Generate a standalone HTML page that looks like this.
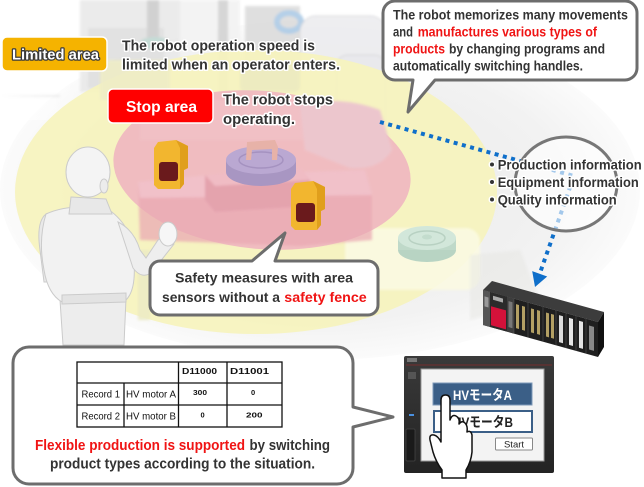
<!DOCTYPE html>
<html><head><meta charset="utf-8">
<style>
html,body{margin:0;padding:0;background:#fff;}
svg{display:block;}
text{font-family:"Liberation Sans","Noto Sans CJK JP",sans-serif;}
</style></head><body>
<svg width="644" height="487" viewBox="0 0 644 487" xmlns="http://www.w3.org/2000/svg">
<defs>
  <filter id="b1" x="-20%" y="-20%" width="140%" height="140%"><feGaussianBlur stdDeviation="1.2"/></filter>
  <radialGradient id="floor" cx="0.5" cy="0.5" r="0.55">
    <stop offset="0" stop-color="#e8e8e8"/><stop offset="0.7" stop-color="#f2f2f2"/><stop offset="1" stop-color="#ffffff"/>
  </radialGradient>
  <linearGradient id="bez" x1="0" y1="0" x2="0" y2="1">
    <stop offset="0" stop-color="#3a3a3a"/><stop offset="1" stop-color="#232323"/>
  </linearGradient>
  <linearGradient id="topfade" x1="0" y1="0" x2="1" y2="0">
    <stop offset="0" stop-color="#fff" stop-opacity="1"/><stop offset="0.2" stop-color="#fff" stop-opacity="0"/>
  </linearGradient>
</defs>

<rect width="644" height="487" fill="#fff"/>
<ellipse cx="320" cy="190" rx="320" ry="170" fill="url(#floor)"/>

<!-- background factory structures -->
<g filter="url(#b1)" opacity="0.85">
  <rect x="80" y="0" width="100" height="92" fill="#e8e8e8"/>
  <rect x="88" y="28" width="76" height="60" fill="#dddddd"/>
  <rect x="147" y="0" width="12" height="40" fill="#cacaca"/>
  <ellipse cx="155" cy="43" rx="15" ry="6" fill="#bcd6d0"/>
  <rect x="180" y="0" width="60" height="100" fill="#f2f2f2"/>
  <rect x="218" y="0" width="10" height="95" fill="#d0d0d0"/>
  <rect x="245" y="6" width="55" height="74" fill="#dadada"/>
  <ellipse cx="289" cy="22" rx="12" ry="9" fill="none" stroke="#a8c8e4" stroke-width="6"/>
  <rect x="300" y="16" width="86" height="56" rx="16" fill="#ececef" stroke="#d2d2d6"/>
  <rect x="336" y="55" width="50" height="110" rx="12" fill="#e8e8ec" stroke="#d2d2d6"/>
  <rect x="0" y="95" width="60" height="2" fill="#e0e0e0"/>
</g>
<rect x="0" y="0" width="400" height="120" fill="url(#topfade)"/>

<!-- limited area (yellow) -->
<ellipse cx="256" cy="192" rx="241" ry="142" fill="#f6f3bd" opacity="0.92"/>
<g filter="url(#b1)" opacity="0.9">
  <rect x="345" y="228" width="135" height="62" rx="14" fill="#fbfae2"/>
  <path d="M470 255 L520 250 L540 300 L470 320 Z" fill="#e6e6e2" opacity="0.5"/>
  <rect x="138" y="250" width="12" height="70" fill="#ecebc4"/>
  <rect x="100" y="60" width="70" height="40" fill="#efedc6"/>
  <rect x="240" y="62" width="60" height="30" rx="6" fill="#eceac0"/>
</g>

<!-- stop area (pink) -->
<ellipse cx="262" cy="170" rx="149" ry="79" transform="rotate(5 262 170)" fill="#efb7c0" opacity="0.92"/>
<g filter="url(#b1)">
  <path d="M138 182 L210 175 L365 170 L372 195 L372 240 L300 246 L140 240 Z" fill="#e9a9b3" opacity="0.75"/>
  <path d="M138 182 L210 175 L365 170 L372 195 L140 198 Z" fill="#f3c6cd" opacity="0.8"/>
  <path d="M205 175 L300 168 L310 180 L310 206 L215 212 L205 200 Z" fill="#e4a3ad"/>
  <path d="M205 175 L300 168 L310 180 L215 186 Z" fill="#f0bcc4"/>
  <rect x="140" y="100" width="190" height="40" fill="#f2c3ca" opacity="0.5"/>
  <path d="M300 105 Q340 95 380 110 L392 150 Q380 170 350 168 L305 150 Z" fill="#ecc6cd"/>
</g>
<!-- purple turntable -->
<ellipse cx="261" cy="172" rx="35" ry="14" fill="#a896c2"/>
<rect x="226" y="160" width="70" height="12" fill="#a896c2"/>
<ellipse cx="261" cy="160" rx="35" ry="14" fill="#baa8d2"/>
<ellipse cx="261" cy="160" rx="22" ry="8" fill="none" stroke="#a592c0" stroke-width="1.5"/>
<path d="M247 142 L275 140 L278 147 L277 160 L272 160 L272 149 L252 150 L251 160 L246 160 Z" fill="#e7b2a8"/>
<!-- green disc -->
<ellipse cx="427" cy="250" rx="29" ry="12" fill="#b8d4c3"/>
<rect x="398" y="238" width="58" height="12" fill="#bfd9c9"/>
<ellipse cx="427" cy="238" rx="29" ry="12" fill="#d2e7da"/>
<ellipse cx="427" cy="238" rx="18" ry="7" fill="none" stroke="#b8d1c2" stroke-width="1.5"/>
<ellipse cx="427" cy="237" rx="5" ry="2.5" fill="#c3dccd"/>

<!-- area sensors -->
<g transform="translate(154,140)">
  <path d="M0 8 L4 2 L22 0 L34 6 L34 28 L30 30 L30 44 L26 49 L4 49 L0 45 Z" fill="#f2b62f"/>
  <path d="M22 0 L34 6 L34 28 L30 30 L30 44 L26 49 L26 8 Z" fill="#e09f1c"/>
  <rect x="5" y="22" width="19" height="19" rx="3" fill="#6a1a1c"/>
</g>
<g transform="translate(291,181)">
  <path d="M0 8 L4 2 L22 0 L34 6 L34 28 L30 30 L30 44 L26 49 L4 49 L0 45 Z" fill="#f2b62f"/>
  <path d="M22 0 L34 6 L34 28 L30 30 L30 44 L26 49 L26 8 Z" fill="#e09f1c"/>
  <rect x="5" y="22" width="19" height="19" rx="3" fill="#6a1a1c"/>
</g>

<!-- operator -->
<g stroke="#cbcbcb" stroke-width="1">
  <path d="M46 214 Q36 222 40 250 L44 282 L54 282 Z" fill="#e9e9e9"/>
  <path d="M60 300 L126 298 L124 345 L63 345 Z" fill="#ededed"/>
  <path d="M46 214 Q70 203 108 209 Q122 219 128 232 L134 262 Q136 290 126 300 L62 302 Q48 294 44 270 Q38 240 46 214 Z" fill="#f2f2f2"/>
  <path d="M62 295 L126 293 L126 302 L62 304 Z" fill="#e3e3e3"/>
  <path d="M118 222 Q134 230 140 250 L146 258 L158 240 L166 236 L174 244 L152 272 Q142 280 133 268 Z" fill="#eeeeee"/>
  <ellipse cx="168" cy="234" rx="9" ry="12" fill="#f6f6f6"/>
  <path d="M71 197 L106 199 L112 214 L69 214 Z" fill="#e8e8e8"/>
  <ellipse cx="88" cy="172" rx="22" ry="25" fill="#f4f4f4"/>
  <ellipse cx="104" cy="186" rx="4" ry="7" fill="#ececec"/>
</g>

<!-- dotted connector -->
<path d="M380 122 L574 176 L539.7 273.8" fill="none" stroke="#0f6fca" stroke-width="4" stroke-dasharray="4 4.5"/>
<polygon points="535,287 547.2,276.5 532.2,271.1" fill="#0f6fca"/>

<!-- info circle -->
<ellipse cx="566" cy="184" rx="51" ry="47" fill="#ffffff" fill-opacity="0.62" stroke="#777" stroke-width="3"/>

<!-- PLC -->
<polygon points="483,290 492,281 604,312 598,322" fill="#3c3c3c"/>
<polygon points="598,322 604,312 604,347 598,357" fill="#111"/>
<polygon points="483,290 598,322 598,357 483,325" fill="#1f1f1f"/>
<g transform="matrix(1,0.2783,0,1,483,290)">
  <rect x="0" y="0" width="7" height="35" fill="#555"/>
  <rect x="1.5" y="6" width="4" height="10" fill="#999"/>
  <rect x="7" y="0" width="17" height="35" fill="#2b2b2b"/>
  <rect x="8" y="14" width="15" height="19" fill="#d4123a"/>
  <rect x="10" y="3" width="10" height="4" fill="#aaa"/>
  <rect x="24" y="0" width="7" height="35" fill="#3d3d3d"/>
  <rect x="25.5" y="4" width="4" height="26" fill="#777"/>
  <rect x="33" y="5" width="3" height="24" fill="#b3a064"/>
  <rect x="39" y="5" width="3" height="24" fill="#b3a064"/>
  <rect x="48" y="5" width="3" height="24" fill="#b3a064"/>
  <rect x="54" y="5" width="3" height="24" fill="#b3a064"/>
  <rect x="63" y="5" width="3" height="24" fill="#b3a064"/>
  <rect x="68" y="5" width="3" height="24" fill="#b3a064"/>
  <rect x="76" y="4" width="4" height="27" fill="#dcdcdc"/>
  <rect x="86" y="4" width="4" height="27" fill="#e6e6e6"/>
  <rect x="96" y="4" width="4" height="27" fill="#e6e6e6"/>
  <rect x="106" y="6" width="5" height="24" fill="#888"/>
  <g stroke="#555" stroke-width="0.6">
    <line x1="31" y1="0" x2="31" y2="35"/><line x1="45" y1="0" x2="45" y2="35"/>
    <line x1="60" y1="0" x2="60" y2="35"/><line x1="73" y1="0" x2="73" y2="35"/>
    <line x1="83" y1="0" x2="83" y2="35"/><line x1="93" y1="0" x2="93" y2="35"/>
    <line x1="103" y1="0" x2="103" y2="35"/>
  </g>
</g>

<!-- GOT screen -->
<rect x="404" y="356" width="150" height="117" rx="2" fill="url(#bez)"/>
<line x1="406" y1="365" x2="552" y2="365" stroke="#8a2b2b" stroke-width="0.8"/>
<rect x="407" y="358" width="10" height="4" fill="#777"/>
<rect x="421" y="369" width="123" height="92" fill="#f3f3f3" stroke="#9a9a9a" stroke-width="1"/>
<rect x="408" y="372" width="8" height="7" fill="#555"/>
<rect x="409" y="414" width="5" height="2" fill="#4a90e0"/>
<rect x="406" y="429" width="9" height="32" rx="1" fill="#1a1a1a" stroke="#444" stroke-width="0.8"/>
<rect x="433" y="383" width="99" height="22" fill="#3b5f87" stroke="#7d99b8" stroke-width="1"/>
<text x="453" y="400" fill="#fff" font-size="14" font-weight="bold" textLength="59" lengthAdjust="spacingAndGlyphs">HVモータA</text>
<rect x="434" y="411" width="98" height="21" fill="#fff" stroke="#3b5f87" stroke-width="2"/>
<text x="453" y="427" fill="#222" font-size="14" font-weight="bold" textLength="60" lengthAdjust="spacingAndGlyphs">HVモータB</text>
<rect x="495.5" y="438" width="37" height="12" rx="1" fill="#fff" stroke="#888" stroke-width="1"/>
<text x="514" y="447.5" fill="#222" font-size="9.5" text-anchor="middle">Start</text>
<path d="M441 432 L441 400 Q441 395 445.5 395 Q450 395 450 400 L450 420 Q452 414 456 416 Q460 418 459 424 Q462 420 465 423 Q468 426 467 432 Q471 430 472 435 L472 452 Q471 462 466 470 L466 478 L442 478 L442 470 Q436 462 433 452 L430 440 Q429 434 434 435 Q438 436 441 442 Z" fill="#fff" stroke="#111" stroke-width="1.5" stroke-linejoin="round"/>

<!-- callouts -->
<path d="M395 1 H625 A12 12 0 0 1 637 13 V68 A12 12 0 0 1 625 80 H435 L408 112 L413 80 H395 A12 12 0 0 1 383 68 V13 A12 12 0 0 1 395 1 Z" fill="#fff" stroke="#6d6d6d" stroke-width="3" stroke-linejoin="round"/>
<path d="M160 261 H252 L285 233 L275 261 H368 A10 10 0 0 1 378 271 V305 A10 10 0 0 1 368 315 H160 A10 10 0 0 1 150 305 V271 A10 10 0 0 1 160 261 Z" fill="#fff" stroke="#6d6d6d" stroke-width="3" stroke-linejoin="round"/>
<path d="M29 347 H337 A16 16 0 0 1 353 363 V407 L393 417 L353 427 V468 A16 16 0 0 1 337 484 H29 A16 16 0 0 1 13 468 V363 A16 16 0 0 1 29 347 Z" fill="#fff" stroke="#6d6d6d" stroke-width="3" stroke-linejoin="round"/>

<!-- table -->
<g fill="none" stroke="#111" stroke-width="1.3">
  <rect x="77" y="362" width="205" height="65"/>
  <line x1="77" y1="383" x2="282" y2="383"/>
  <line x1="77" y1="405" x2="282" y2="405"/>
  <line x1="124" y1="383" x2="124" y2="427"/>
  <line x1="178.5" y1="362" x2="178.5" y2="427"/>
  <line x1="227" y1="362" x2="227" y2="427"/>
</g>
<g fill="#111">
  <text x="182" y="374" font-family="DejaVu Sans" font-size="8" font-weight="bold" textLength="35" lengthAdjust="spacingAndGlyphs">D11000</text>
  <text x="230" y="374" font-family="DejaVu Sans" font-size="8" font-weight="bold" textLength="39" lengthAdjust="spacingAndGlyphs">D11001</text>
  <text x="81.5" y="397.5" font-size="10.5" textLength="38.5" lengthAdjust="spacingAndGlyphs">Record 1</text>
  <text x="126" y="397.5" font-size="10.5" textLength="50" lengthAdjust="spacingAndGlyphs">HV motor A</text>
  <text x="193" y="395" font-family="DejaVu Sans" font-size="7.5" font-weight="bold" textLength="14" lengthAdjust="spacingAndGlyphs">300</text>
  <text x="251" y="395" font-family="DejaVu Sans" font-size="7.5" font-weight="bold">0</text>
  <text x="81.5" y="419.5" font-size="10.5" textLength="38.5" lengthAdjust="spacingAndGlyphs">Record 2</text>
  <text x="126" y="419.5" font-size="10.5" textLength="50" lengthAdjust="spacingAndGlyphs">HV motor B</text>
  <text x="200.5" y="417.5" font-family="DejaVu Sans" font-size="7.5" font-weight="bold">0</text>
  <text x="246" y="417.5" font-family="DejaVu Sans" font-size="7.5" font-weight="bold" textLength="16.5" lengthAdjust="spacingAndGlyphs">200</text>
</g>

<g font-size="15" font-weight="bold">
  <text x="35" y="450" fill="#f01414" textLength="210" lengthAdjust="spacingAndGlyphs">Flexible production is supported</text>
  <text x="249.5" y="450" fill="#333" textLength="80.5" lengthAdjust="spacingAndGlyphs">by switching</text>
  <text x="50" y="468.5" fill="#333" textLength="265" lengthAdjust="spacingAndGlyphs">product types according to the situation.</text>
</g>

<g font-size="14" font-weight="bold">
  <text x="175" y="282.7" fill="#333" textLength="178" lengthAdjust="spacingAndGlyphs">Safety measures with area</text>
  <text x="162" y="302" fill="#333" textLength="118" lengthAdjust="spacingAndGlyphs">sensors without a</text>
  <text x="284.3" y="302" fill="#f01414" textLength="82.4" lengthAdjust="spacingAndGlyphs">safety fence</text>
</g>

<g font-size="13.5" font-weight="bold">
  <text x="393" y="19.5" fill="#333" textLength="235" lengthAdjust="spacingAndGlyphs">The robot memorizes many movements</text>
  <text x="393" y="36.5" fill="#333" textLength="20" lengthAdjust="spacingAndGlyphs">and</text>
  <text x="417.7" y="36.5" fill="#f01414" textLength="179.3" lengthAdjust="spacingAndGlyphs">manufactures various types of</text>
  <text x="393" y="53.5" fill="#f01414" textLength="52" lengthAdjust="spacingAndGlyphs">products</text>
  <text x="449" y="53.5" fill="#333" textLength="156" lengthAdjust="spacingAndGlyphs">by changing programs and</text>
  <text x="393" y="70.5" fill="#333" textLength="190" lengthAdjust="spacingAndGlyphs">automatically switching handles.</text>
</g>

<g font-size="14" font-weight="bold" fill="#333" stroke="#fff" stroke-width="3" paint-order="stroke" stroke-linejoin="round">
  <circle cx="492" cy="164.5" r="2"/>
  <circle cx="492" cy="182" r="2"/>
  <circle cx="492" cy="199.5" r="2"/>
  <text x="497.7" y="169.3" textLength="144" lengthAdjust="spacingAndGlyphs">Production information</text>
  <text x="497.7" y="187" textLength="141" lengthAdjust="spacingAndGlyphs">Equipment information</text>
  <text x="497.7" y="204.5" textLength="119" lengthAdjust="spacingAndGlyphs">Quality information</text>
</g>

<rect x="2" y="37" width="105" height="34" rx="5" fill="#f5b300" stroke="#fff" stroke-width="1.5"/>
<text x="12" y="59.5" font-size="15" font-weight="bold" fill="#fff" stroke="#3a3a3a" stroke-width="2.5" paint-order="stroke" stroke-linejoin="round" textLength="87" lengthAdjust="spacingAndGlyphs">Limited area</text>
<g font-size="14.5" font-weight="bold" fill="#333" stroke="#fff" stroke-width="3" paint-order="stroke" stroke-linejoin="round">
  <text x="122" y="50.5" textLength="193" lengthAdjust="spacingAndGlyphs">The robot operation speed is</text>
  <text x="122" y="69.5" textLength="218" lengthAdjust="spacingAndGlyphs">limited when an operator enters.</text>
  <text x="223" y="104.5" textLength="110" lengthAdjust="spacingAndGlyphs">The robot stops</text>
  <text x="223" y="124" textLength="72" lengthAdjust="spacingAndGlyphs">operating.</text>
</g>
<rect x="108" y="89" width="105" height="34" rx="5" fill="#ff0000" stroke="#fff" stroke-width="1.5"/>
<text x="126" y="112" font-size="16" font-weight="bold" fill="#fff" textLength="71" lengthAdjust="spacingAndGlyphs">Stop area</text>
</svg>
</body></html>
